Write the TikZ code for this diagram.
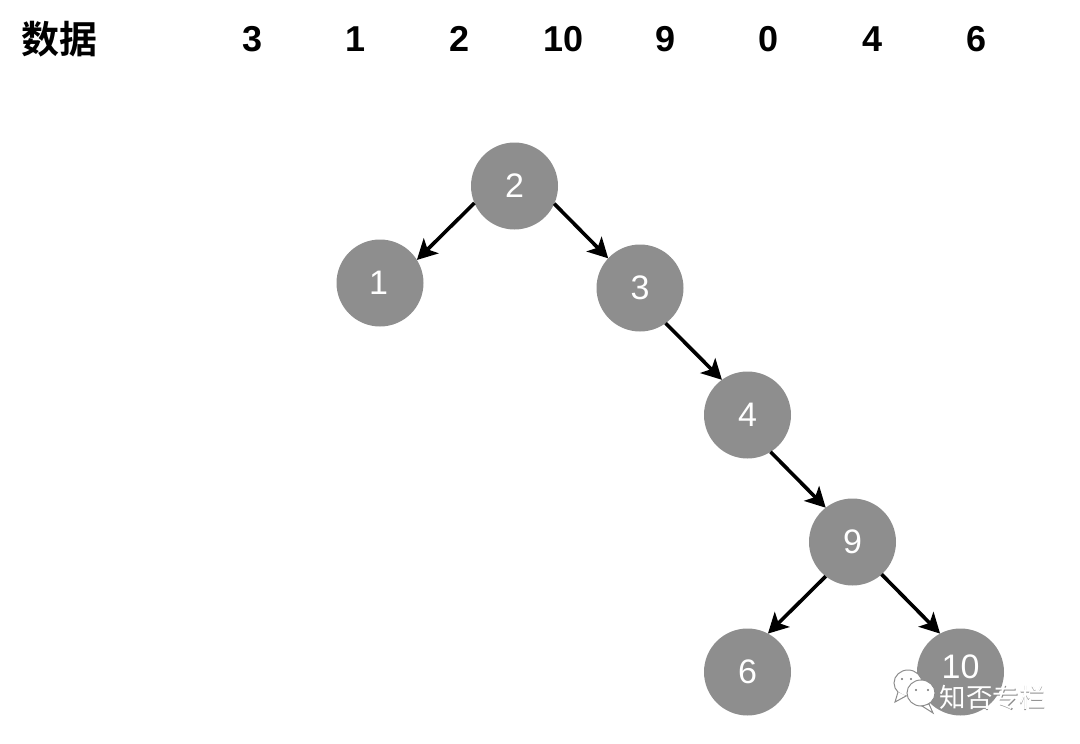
\documentclass[tikz,border=0pt]{standalone}
\usepackage{fontspec}
\setmainfont{Liberation Sans}
\newfontfamily\cjk{Noto Sans CJK SC}[BoldFont={* Bold}]
\usetikzlibrary{arrows.meta}
\definecolor{nodegray}{HTML}{8E8E8E}
\tikzset{
  treenode/.style={circle,fill=nodegray,draw=none,minimum size=87pt,inner sep=0pt,outer sep=0pt,text=white,font=\fontsize{34}{40}\selectfont},
  link/.style={line width=3.6pt,draw=black,-{Stealth[length=20pt,width=21pt,inset=5pt]}},
  header/.style={inner sep=0pt,font=\fontsize{36}{42}\selectfont\bfseries},
  bubble/.style={draw=black!45,line width=1pt,fill=white},
  eye/.style={fill=black!55,draw=none}
}
\begin{document}
\begin{tikzpicture}[x=1pt,y=-1pt]
\useasboundingbox (0,0) rectangle (1080,744);
\node[header,font=\fontsize{38}{44}\selectfont\bfseries] (title) at (59,39) {\cjk 数据};
\node[header] (d1) at (253,39) {3};
\node[header] (d2) at (356,39) {1};
\node[header] (d3) at (460,39) {2};
\node[header] (d4) at (564,39) {10};
\node[header] (d5) at (666,39) {9};
\node[header] (d6) at (769,39) {0};
\node[header] (d7) at (873,39) {4};
\node[header] (d8) at (977,39) {6};

\node[treenode] (n2) at (514.5,186) {2};
\node[treenode] (n1) at (380,283) {\hspace*{-3pt}1};
\node[treenode] (n3) at (640,288) {3};
\node[treenode] (n4) at (747.5,415) {4};
\node[treenode] (n9) at (852.5,542) {9};
\node[treenode] (n6) at (747.5,672) {6};
\node[treenode] (n10) at (960.5,672) {\raisebox{10pt}{10}};

\draw[link] (n2.203) -- (n1.32);
\draw[link] (n2.-24) -- (n3.137);
\draw[link] (n3.-54) -- (n4.126);
\draw[link] (n4.-58) -- (n9.128);
\draw[link] (n9.232) -- (n6.62);
\draw[link] (n9.-48) -- (n10.118);

% watermark
\draw[bubble] (908,683) ellipse [x radius=14,y radius=13];
\draw[bubble] (898,692) -- (895,702) -- (906,696);
\draw[bubble] (921,693) ellipse [x radius=14,y radius=13];
\draw[bubble] (929,704) -- (933,713) -- (922,706) -- cycle;
\fill[white] (921,693) ellipse [x radius=13,y radius=12];
\fill[eye] (902,679) circle (1.2);
\fill[eye] (911,679) circle (1.2);
\fill[eye] (916,690) circle (1.2);
\fill[eye] (928,690) circle (1.2);
\node[inner sep=0pt,text=black!45,font=\fontsize{26.5}{30}\selectfont] (wms) at (993.2,698.2) {\cjk 知否专栏};
\node[inner sep=0pt,text=white,font=\fontsize{26.5}{30}\selectfont] (wm) at (992.5,697.5) {\cjk 知否专栏};
\end{tikzpicture}
\end{document}
